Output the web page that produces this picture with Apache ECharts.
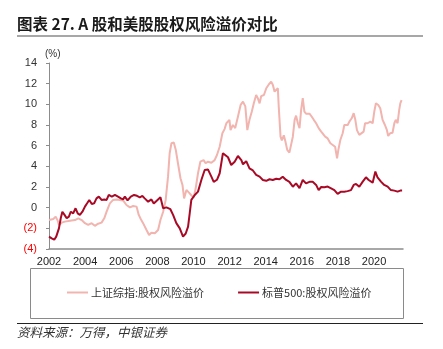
<!DOCTYPE html>
<html>
<head>
<meta charset="utf-8">
<script src="https://cdn.jsdelivr.net/npm/echarts@6/dist/echarts.min.js"></script>
<style>
html,body{margin:0;padding:0;background:#fff;}
#c{width:443px;height:349px;}
</style>
</head>
<body>
<div id="c"></div>
<script>
// ---- DATA ----
const titleText = '图表 27. A 股和美股股权风险溢价对比';
const sourceText = '资料来源：万得，中银证券';
const seriesNames = ['上证综指:股权风险溢价', '标普500:股权风险溢价'];
const yTicks = [-4, -2, 0, 2, 4, 6, 8, 10, 12, 14];
const xTickYears = [2002, 2004, 2006, 2008, 2010, 2012, 2014, 2016, 2018, 2020];

// 上证综指 equity risk premium (%)
const sseYears = [2002.0,2002.05,2002.24,2002.37,2002.48,2002.55,2002.70,2002.88,2003.07,2003.25,2003.44,2003.62,2003.81,2003.99,2004.17,2004.36,2004.54,2004.72,2004.91,2005.06,2005.19,2005.37,2005.55,2005.74,2005.92,2006.10,2006.29,2006.48,2006.66,2006.85,2006.97,2007.08,2007.21,2007.40,2007.54,2007.67,2007.86,2008.04,2008.17,2008.32,2008.46,2008.59,2008.68,2008.78,2008.91,2009.02,2009.14,2009.28,2009.39,2009.48,2009.61,2009.75,2009.88,2010.01,2010.12,2010.25,2010.38,2010.49,2010.56,2010.67,2010.80,2010.99,2011.17,2011.30,2011.45,2011.60,2011.72,2011.82,2011.99,2012.05,2012.18,2012.31,2012.46,2012.61,2012.74,2012.87,2012.98,2013.10,2013.23,2013.34,2013.47,2013.56,2013.66,2013.75,2013.90,2014.03,2014.16,2014.30,2014.39,2014.49,2014.58,2014.67,2014.72,2014.82,2014.89,2015.00,2015.09,2015.19,2015.31,2015.41,2015.50,2015.60,2015.68,2015.78,2015.87,2015.96,2016.05,2016.14,2016.23,2016.42,2016.55,2016.66,2016.79,2016.93,2017.07,2017.16,2017.29,2017.43,2017.58,2017.71,2017.84,2017.95,2018.02,2018.13,2018.26,2018.35,2018.45,2018.54,2018.63,2018.76,2018.87,2018.96,2019.05,2019.18,2019.28,2019.42,2019.50,2019.64,2019.79,2019.92,2020.01,2020.10,2020.23,2020.34,2020.47,2020.60,2020.71,2020.78,2020.89,2021.02,2021.12,2021.20,2021.30,2021.39,2021.45,2021.52];
const sseVals = [-1.2,-1.19,-1.1,-0.87,-1.25,-1.67,-1.45,-1.35,-1.3,-1.25,-1.2,-1.03,-1.2,-1.5,-1.67,-1.5,-1.76,-1.55,-1.45,-1.03,-0.39,0.42,0.75,0.8,0.75,0.7,0.26,0.03,0.16,0.1,-0.7,-1.1,-1.5,-2.16,-2.64,-2.42,-2.48,-2.16,-1.19,-0.39,0.75,3.0,5.27,6.23,6.3,5.59,4.3,2.85,2.2,0.9,1.71,1.46,1.2,0.98,1.85,3.33,4.45,4.3,4.6,4.3,4.45,4.35,4.6,5.1,5.9,7.2,7.6,8.17,8.5,7.5,8.0,7.7,8.8,9.94,10.26,9.8,7.5,8.5,9.3,10.1,10.9,10.6,10.1,10.8,10.9,11.56,11.9,12.2,11.9,11.23,11.4,11.56,9.78,6.87,6.5,7.0,6.4,5.59,5.33,5.4,6.87,8.5,8.9,8.17,7.7,9.46,10.59,9.3,9.1,9.1,8.8,8.5,8.17,7.7,7.36,7.5,6.87,6.7,6.23,6.07,5.9,4.78,5.59,6.55,7.2,8.0,8.17,8.0,8.33,8.65,9.14,8.5,7.5,7.04,7.2,7.36,8.17,8.17,8.33,8.17,9.3,10.1,9.94,9.62,8.5,8.0,7.5,6.94,7.2,7.25,8.17,8.5,8.17,9.46,10.1,10.4];

// 标普500 equity risk premium (%)
const spxYears = [2002.0,2002.05,2002.15,2002.29,2002.40,2002.55,2002.65,2002.74,2002.86,2002.98,2003.10,2003.21,2003.34,2003.47,2003.59,2003.71,2003.85,2003.99,2004.11,2004.23,2004.37,2004.50,2004.63,2004.76,2004.91,2005.06,2005.19,2005.31,2005.48,2005.65,2005.82,2005.98,2006.10,2006.20,2006.35,2006.53,2006.71,2006.87,2007.03,2007.17,2007.30,2007.49,2007.67,2007.80,2007.95,2008.06,2008.17,2008.32,2008.50,2008.72,2008.87,2009.05,2009.24,2009.42,2009.57,2009.70,2009.79,2009.88,2010.07,2010.25,2010.44,2010.62,2010.80,2010.99,2011.12,2011.30,2011.45,2011.63,2011.72,2011.91,2012.09,2012.28,2012.46,2012.65,2012.74,2012.92,2013.10,2013.29,2013.47,2013.66,2013.84,2014.03,2014.21,2014.39,2014.58,2014.76,2014.94,2015.13,2015.31,2015.50,2015.68,2015.87,2016.05,2016.23,2016.42,2016.60,2016.79,2016.93,2017.07,2017.25,2017.43,2017.62,2017.80,2017.98,2018.17,2018.35,2018.53,2018.72,2018.87,2019.00,2019.18,2019.37,2019.55,2019.70,2019.92,2020.07,2020.19,2020.38,2020.56,2020.75,2020.93,2021.12,2021.30,2021.45,2021.55];
const spxVals = [-2.8,-2.74,-2.97,-3.1,-2.8,-2.0,-1.03,-0.39,-0.7,-1.03,-0.87,-0.39,-0.55,-0.06,-0.55,-0.7,-0.39,0.1,0.42,0.75,0.36,0.42,0.9,1.07,0.75,0.8,0.75,1.23,1.07,1.23,1.07,0.9,0.8,1.07,0.7,1.07,1.23,1.15,1.0,1.13,0.9,0.58,0.8,0.4,0.65,0.6,1.0,-0.06,0.03,-0.15,-0.7,-1.5,-2.0,-2.8,-2.5,-1.84,-0.55,0.75,1.23,1.55,2.7,3.65,3.7,3.0,2.5,2.7,3.33,5.27,5.1,4.88,4.13,4.45,5.0,4.6,4.2,4.5,3.8,3.6,3.17,3.0,2.68,2.6,2.75,2.68,2.8,2.75,3.0,2.68,2.5,2.03,2.35,1.9,2.68,2.35,2.5,2.5,2.2,1.7,2.0,1.97,2.04,1.87,1.7,1.33,1.55,1.55,1.6,1.7,2.2,2.3,2.03,2.52,2.94,2.68,2.42,3.49,2.94,2.52,2.2,2.04,1.7,1.65,1.55,1.65,1.65];

const zip = (xs, ys) => xs.map((x, i) => [x, ys[i]]);

const chart = echarts.init(document.getElementById('c'), null, {renderer: 'canvas'});
const latin = 'Liberation Sans, Arial, sans-serif';
const cjk = '"Noto Sans CJK SC", "Liberation Sans", sans-serif';

chart.setOption({
  animation: false,
  backgroundColor: '#fff',
  grid: {left: 49, right: 40, top: 63, bottom: 100, containLabel: false},
  xAxis: [{
    type: 'value', min: 2002, max: 2021.6, interval: 2,
    axisLine: {show: false}, axisTick: {show: false}, splitLine: {show: false},
    axisLabel: {
      margin: 7, color: '#222', fontFamily: latin, fontSize: 11,
      formatter: v => (xTickYears.indexOf(v) >= 0 ? String(v) : '')
    }
  }, {
    type: 'value', min: 2002, max: 2021.6, position: 'bottom',
    axisLine: {show: true, onZero: true, lineStyle: {color: '#8c8c8c', width: 1.5}},
    axisTick: {show: false}, axisLabel: {show: false}, splitLine: {show: false}
  }],
  yAxis: {
    type: 'value', min: -4, max: 14, interval: 2,
    axisLine: {show: true, lineStyle: {color: '#8c8c8c', width: 1}},
    axisTick: {show: true, length: 3, inside: false, lineStyle: {color: '#8c8c8c'}},
    splitLine: {show: false},
    axisLabel: {
      margin: 12, fontFamily: latin, fontSize: 11,
      color: v => (Number(v) < 0 ? '#ff0000' : '#333'),
      formatter: v => (v < 0 ? '(' + Math.abs(v) + ')' : String(v))
    }
  },
  legend: {
    left: 67, top: 287, padding: 0, itemGap: 34, itemWidth: 21, itemHeight: 2,
    icon: 'rect',
    textStyle: {fontFamily: cjk, fontSize: 11, color: '#333', padding: [0, 0, 0, -2]},
    data: seriesNames
  },
  series: [{
    name: seriesNames[0], type: 'line', xAxisIndex: 0, showSymbol: false, symbol: 'none',
    data: zip(sseYears, sseVals),
    lineStyle: {color: '#f1b4ae', width: 2}, itemStyle: {color: '#f1b4ae'}, z: 2
  }, {
    name: seriesNames[1], type: 'line', xAxisIndex: 0, showSymbol: false, symbol: 'none',
    data: zip(spxYears, spxVals),
    lineStyle: {color: '#a80a26', width: 2}, itemStyle: {color: '#a80a26'}, z: 3
  }],
  graphic: [
    {type: 'text', left: 17, top: 16, style: {text: titleText, font: 'bold 15.5px "Noto Sans CJK SC", sans-serif', fill: '#1a1a1a'}},
    {type: 'line', shape: {x1: 17, y1: 36, x2: 423, y2: 36}, style: {stroke: '#8a8a8a', lineWidth: 1.5}},
    {type: 'text', left: 45, top: 49, style: {text: '(%)', font: '10px "Liberation Sans", Arial, sans-serif', fill: '#333'}},
    {type: 'rect', shape: {x: 30.5, y: 268.5, width: 373, height: 50}, style: {fill: 'none', stroke: '#8a8a8a', lineWidth: 1}},
    {type: 'line', shape: {x1: 17, y1: 323.5, x2: 423, y2: 323.5}, style: {stroke: '#222', lineWidth: 1}},
    {type: 'text', left: 17, top: 326, style: {text: sourceText, font: 'italic 12.5px "Noto Sans CJK SC", sans-serif', fill: '#333'}}
  ]
});
</script>
</body>
</html>
